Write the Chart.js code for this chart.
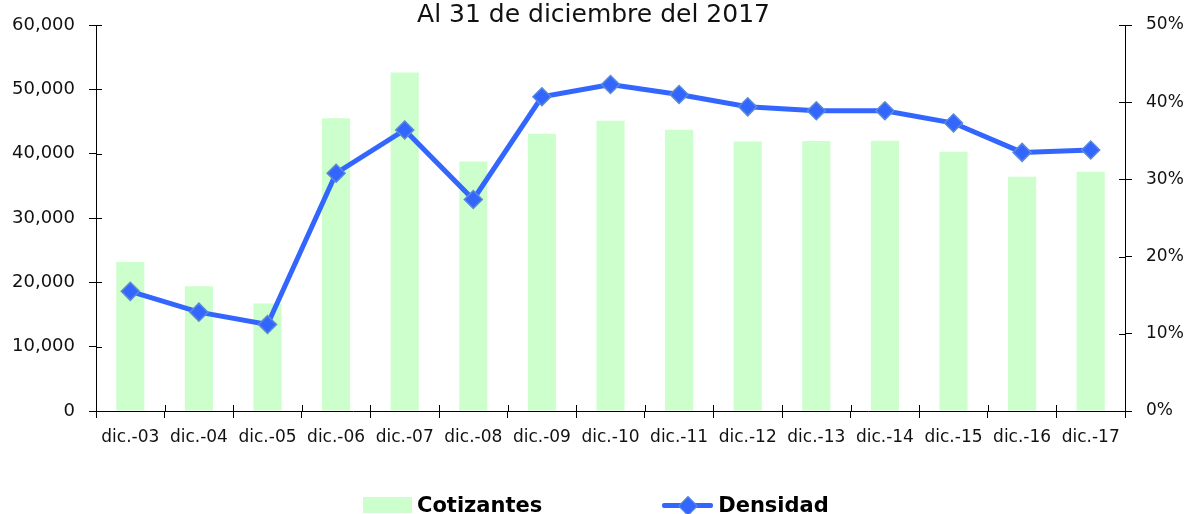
<!DOCTYPE html>
<html lang="es">
<head>
<meta charset="utf-8">
<title>Cotizantes y densidad</title>
<script src="https://cdn.jsdelivr.net/npm/chart.js@4.4.1/dist/chart.umd.min.js"></script>
<style>
  html, body { margin: 0; padding: 0; background: #fff; }
  #wrap { position: relative; width: 1187px; height: 514px; }
  #chart { display: block; }
  .legend {
    position: absolute;
    left: 363px;
    top: 493px;
    display: flex;
    align-items: center;
    font-family: "DejaVu Sans", sans-serif;
    font-weight: bold;
    font-size: 21px;
    color: #000;
  }
  .legend-item { display: flex; align-items: center; }
  .swatch-bar { width: 49px; height: 16px; background: #ccffcc; margin-right: 5px; }
  .swatch-line { position: relative; width: 51px; height: 5px; background: #3366ff; margin-right: 5px; border-radius: 2px; }
  .swatch-line::after {
    content: "";
    position: absolute;
    left: 19px;
    top: -4px;
    width: 12px;
    height: 12px;
    background: #3366ff;
    border: 1px solid #5b8ad6;
    transform: rotate(45deg);
  }
</style>
</head>
<body>
<div id="wrap">
  <canvas id="chart" width="1187" height="514"></canvas>
  <div class="legend">
    <div class="legend-item" style="margin-right: 120px;"><span class="swatch-bar"></span><span>Cotizantes</span></div>
    <div class="legend-item"><span class="swatch-line"></span><span>Densidad</span></div>
  </div>
</div>
<script>
const titleText = "Al 31 de diciembre del 2017";

const periods = [
  "dic.-03", "dic.-04", "dic.-05", "dic.-06", "dic.-07",
  "dic.-08", "dic.-09", "dic.-10", "dic.-11", "dic.-12",
  "dic.-13", "dic.-14", "dic.-15", "dic.-16", "dic.-17",
];

// cotizantes (left axis)
const cotizantes = [
  23150, 19400, 16700, 45500, 52600,
  38800, 43100, 45100, 43700, 41900,
  41950, 42000, 40300, 36400, 37200,
];

// densidad, in percent (right axis)
const densidad = [
  15.5, 12.8, 11.2, 30.8, 36.4,
  27.4, 40.7, 42.3, 41.0, 39.4,
  38.9, 38.9, 37.3, 33.5, 33.8,
];

const leftTicks = [0, 10000, 20000, 30000, 40000, 50000, 60000];
const rightTicks = [0, 10, 20, 30, 40, 50];

const palette = {
  bar: "#ccffcc",
  line: "#3366ff",
  marker: "#3366ff",
  markerEdge: "#5b8ad6",
  axis: "#000000",
  text: "#111111",
};

const fontFamily = "'DejaVu Sans', sans-serif";

// Excel-style ticks cross the axis, Chart.js only draws the outer half
const innerTicks = {
  id: "innerTicks",
  afterDraw(chart) {
    const { ctx, chartArea, scales } = chart;
    const len = 6;
    ctx.save();
    ctx.strokeStyle = palette.axis;
    ctx.lineWidth = 1;
    ctx.beginPath();
    scales.y.ticks.forEach((t, i) => {
      const y = Math.round(scales.y.getPixelForTick(i)) + 0.5;
      ctx.moveTo(chartArea.left, y);
      ctx.lineTo(chartArea.left + len, y);
    });
    scales.y1.ticks.forEach((t, i) => {
      const y = Math.round(scales.y1.getPixelForTick(i)) + 0.5;
      ctx.moveTo(chartArea.right - len, y);
      ctx.lineTo(chartArea.right, y);
    });
    const step = (chartArea.right - chartArea.left) / periods.length;
    for (let i = 1; i <= periods.length; i++) {
      const x = Math.round(chartArea.left + step * i) + 0.5;
      ctx.moveTo(x, chartArea.bottom - len);
      ctx.lineTo(x, chartArea.bottom);
    }
    ctx.stroke();
    ctx.restore();
  },
};

new Chart(document.getElementById("chart"), {
  type: "bar",
  data: {
    labels: periods,
    datasets: [
      {
        type: "line",
        label: "Densidad",
        data: densidad,
        yAxisID: "y1",
        order: 0,
        borderColor: palette.line,
        borderWidth: 5,
        pointStyle: "rectRot",
        pointRadius: 9,
        pointBackgroundColor: palette.marker,
        pointBorderColor: palette.markerEdge,
        pointBorderWidth: 1.5,
        tension: 0,
      },
      {
        type: "bar",
        label: "Cotizantes",
        data: cotizantes,
        yAxisID: "y",
        order: 1,
        backgroundColor: palette.bar,
        borderWidth: 0,
        categoryPercentage: 1,
        barPercentage: 0.41,
      },
    ],
  },
  options: {
    responsive: false,
    animation: false,
    layout: { padding: { top: 0, left: 0, right: 0, bottom: 63 } },
    plugins: {
      legend: { display: false },
      tooltip: { enabled: false },
      title: {
        display: true,
        text: titleText,
        color: palette.text,
        font: { family: fontFamily, size: 25, weight: "normal", lineHeight: 1 },
        padding: { top: 3, bottom: -3 },
      },
    },
    scales: {
      x: {
        afterFit: (scale) => { scale.height = 40; },
        grid: {
          offset: true,
          drawOnChartArea: false,
          drawTicks: true,
          tickLength: 7,
          color: palette.axis,
        },
        border: { display: true, color: palette.axis, width: 1 },
        ticks: {
          color: palette.text,
          font: { family: fontFamily, size: 17 },
          padding: 9,
          maxRotation: 0,
          autoSkip: false,
        },
      },
      y: {
        position: "left",
        min: 0,
        max: 60000,
        afterFit: (scale) => { scale.width = 96; },
        afterBuildTicks: (scale) => { scale.ticks = leftTicks.map((v) => ({ value: v })); },
        grid: {
          drawOnChartArea: false,
          drawTicks: true,
          tickLength: 7,
          color: palette.axis,
        },
        border: { display: true, color: palette.axis, width: 1 },
        ticks: {
          color: palette.text,
          font: { family: fontFamily, size: 18 },
          padding: 14,
          callback: (v) => Number(v).toLocaleString("en-US"),
        },
      },
      y1: {
        position: "right",
        min: 0,
        max: 50,
        afterFit: (scale) => { scale.width = 62; },
        afterBuildTicks: (scale) => { scale.ticks = rightTicks.map((v) => ({ value: v })); },
        grid: {
          drawOnChartArea: false,
          drawTicks: true,
          tickLength: 7,
          color: palette.axis,
        },
        border: { display: true, color: palette.axis, width: 1 },
        ticks: {
          color: palette.text,
          font: { family: fontFamily, size: 17 },
          padding: 14,
          callback: (v) => v + "%",
        },
      },
    },
  },
  plugins: [innerTicks],
});
</script>
</body>
</html>
